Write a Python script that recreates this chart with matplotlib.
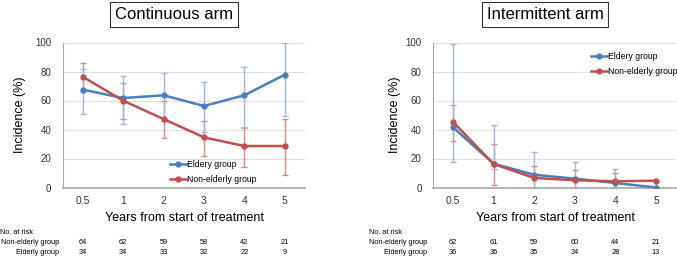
import matplotlib
matplotlib.use("Agg")
import matplotlib.pyplot as plt
import numpy as np

plt.rcParams['font.family'] = ['Liberation Sans', 'DejaVu Sans']

categories = ["0.5", "1", "2", "3", "4", "5"]

# Continuous arm
cont_eld = [67.5, 61.7, 63.6, 56.2, 63.6, 77.8]
cont_eld_lo = [50.7, 43.8, 46.0, 38.0, 41.5, 49.1]
cont_eld_hi = [82.0, 76.9, 79.0, 73.0, 82.9, 99.9]
cont_non = [76.4, 59.9, 47.2, 34.6, 28.6, 28.6]
cont_non_lo = [65.9, 47.0, 34.1, 22.0, 14.1, 8.8]
cont_non_hi = [86.0, 71.8, 60.0, 46.0, 41.0, 47.0]

# Intermittent arm
int_eld = [41.5, 16.4, 8.8, 6.1, 3.1, 0.0]
int_eld_lo = [17.4, 12.6, 0.0, 0.0, 0.0, 0.0]
int_eld_hi = [99.0, 43.3, 24.3, 17.6, 12.5, 0.0]
int_non = [45.2, 16.2, 6.6, 5.0, 4.3, 4.7]
int_non_lo = [31.8, 1.7, 0.0, 0.0, 0.0, 0.0]
int_non_hi = [56.7, 30.0, 15.0, 12.0, 10.0, 4.7]

risk_cont_non = [64, 62, 59, 58, 42, 21]
risk_cont_eld = [34, 34, 33, 32, 22, 9]
risk_int_non = [62, 61, 59, 60, 44, 21]
risk_int_eld = [36, 36, 35, 34, 28, 13]

yticks = [0, 20, 40, 60, 80, 100]

BLUE = "#4a7ebf"
RED = "#c0504d"
BLUE_E = "#9ab6df"
RED_E = "#de8886"

W, H = 677, 259
fig = plt.figure(figsize=(W / 100, H / 100), dpi=100)


def fx(px):
    return px / W


def fy(py):
    return 1 - py / H


def panel(left_px, right_px, title, title_cx, eld, elo, ehi, non, nlo, nhi,
          legend_loc, legend_anchor, r_non, r_eld, nrisk_x, lab_x, ylab_x):
    ax = fig.add_axes([fx(left_px), fy(187.5), fx(right_px - left_px), (187.5 - 42.5) / H])
    x = np.arange(len(categories))
    eld = np.array(eld); non = np.array(non)
    ax.errorbar(x, non, yerr=[non - np.array(nlo), np.array(nhi) - non], fmt='none',
                ecolor=RED_E, elinewidth=1.0, capsize=2, capthick=1.0, zorder=2)
    ax.errorbar(x, eld, yerr=[eld - np.array(elo), np.array(ehi) - eld], fmt='none',
                ecolor=BLUE_E, elinewidth=1.0, capsize=2, capthick=1.0, zorder=2)
    ax.plot(x, eld, color=BLUE, lw=1.8, marker='o', ms=3.5, label="Eldery group", zorder=3)
    ax.plot(x, non, color=RED, lw=1.8, marker='o', ms=3.5, label="Non-elderly group", zorder=4)
    ax.set_xlim(-0.5, len(categories) - 0.5)
    ax.set_ylim(0, 100)
    ax.set_yticks(yticks)
    ax.set_xticks(x)
    ax.set_xticklabels(categories)
    ax.tick_params(length=0, labelsize=7, colors='#333333')
    ax.tick_params(axis='x', pad=6, labelsize=7.5)
    ax.tick_params(axis='y', pad=8)
    ax.grid(axis='y', color='#e0e0e0', lw=0.8)
    ax.set_axisbelow(True)
    for s in ['top', 'right']:
        ax.spines[s].set_visible(False)
    ax.spines['left'].set_color('#a6a6a6')
    ax.spines['bottom'].set_color('#a6a6a6')
    ax.spines['bottom'].set_linewidth(1.2)
    ax.legend(loc=legend_loc, bbox_to_anchor=legend_anchor, frameon=False,
              fontsize=6.2, handlelength=1.9, handletextpad=0.05, labelspacing=0.75,
              borderaxespad=0)
    # title box
    fig.text(fx(title_cx), fy(14.5), title, ha='center', va='center', fontsize=12,
             bbox=dict(boxstyle='square,pad=0.3', fc='white', ec='#333333', lw=0.8))
    fig.text(fx(ylab_x), fy(115), "Incidence (%)", rotation=90, ha='center', va='center',
             fontsize=9)
    fig.text(fx((left_px + right_px) / 2 + 1), fy(218), "Years from start of treatment",
             ha='center', va='center', fontsize=9)
    # risk table
    fig.text(fx(nrisk_x), fy(232.5), "No. at risk", ha='left', va='center', fontsize=5.3)
    fig.text(fx(lab_x), fy(243), "Non-elderly group", ha='right', va='center', fontsize=5.3)
    fig.text(fx(lab_x), fy(253), "Elderly group", ha='right', va='center', fontsize=5.3)
    step = (right_px - left_px) / len(categories)
    for i in range(len(categories)):
        cx = left_px + step * (i + 0.5)
        fig.text(fx(cx), fy(243), str(r_non[i]), ha='center', va='center', fontsize=5.3)
        fig.text(fx(cx), fy(253), str(r_eld[i]), ha='center', va='center', fontsize=5.3)
    return ax


panel(62.5, 305, "Continuous arm", 174, cont_eld, cont_eld_lo, cont_eld_hi,
      cont_non, cont_non_lo, cont_non_hi, 'lower left', (0.43, 0.0),
      risk_cont_non, risk_cont_eld, 0, 59, 20)
panel(432.7, 676.3, "Intermittent arm", 545, int_eld, int_eld_lo, int_eld_hi,
      int_non, int_non_lo, int_non_hi, 'upper left', (0.635, 0.96),
      risk_int_non, risk_int_eld, 369, 427, 395)

fig.savefig("out.png", dpi=100)
